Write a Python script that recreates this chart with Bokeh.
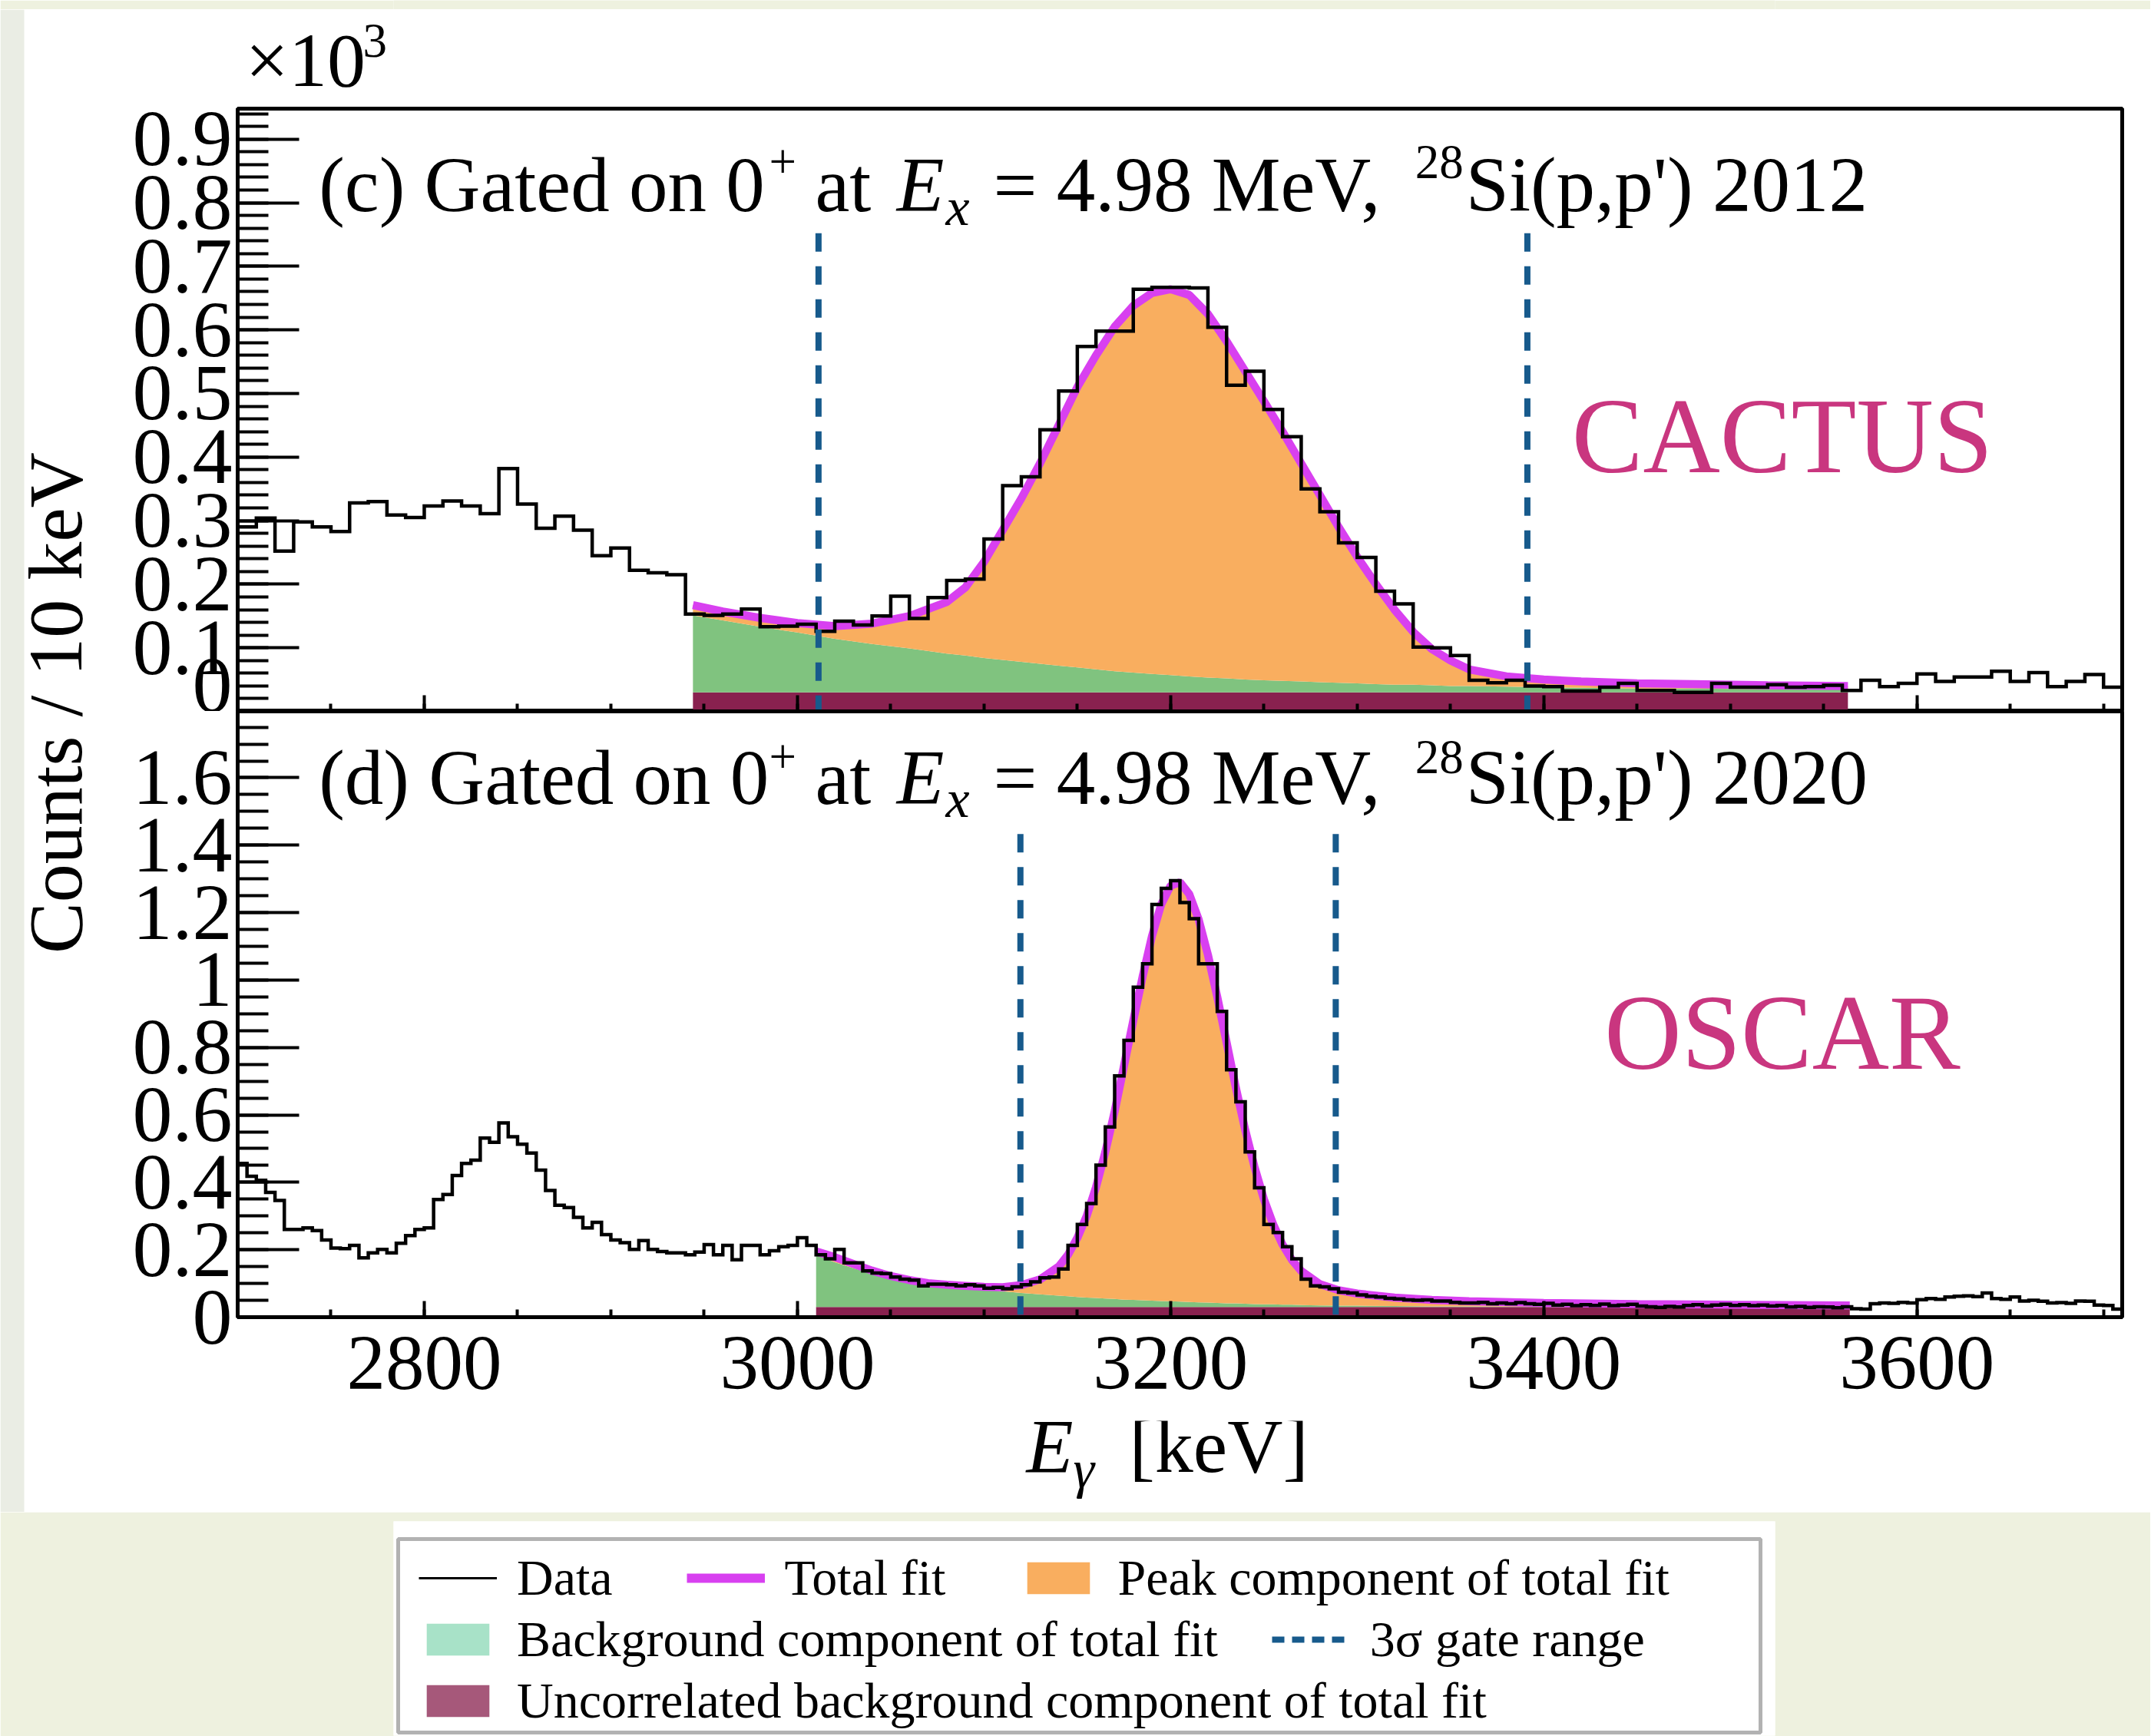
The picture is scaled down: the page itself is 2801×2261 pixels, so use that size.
import numpy as np
from bokeh.plotting import figure
from bokeh.models import (Range1d, SingleIntervalTicker, CustomJSTickFormatter, Label,
                          Legend, LegendItem, BoxAnnotation)
from bokeh.layouts import row, column
from bokeh.embed import file_html
from bokeh.resources import INLINE

FONT = "Liberation Serif"
CREAM = "#eef1df"
GRAYBAND = "#eaede4"
PINK = "#c9367f"
BLUE = "#175a8c"
ORANGE = "#f9ae5f"
GREEN = "#80c37f"
MAROON = "#89214f"
MAGENTA = "#d840f0"
MINT = "#a8e2c8"
UNC_LEG = "#a6587a"

# ---------------- data ----------------
x_lo, x_hi = 2700, 3710

# (c) CACTUS 2012 : 10 keV bins starting at 2700 keV
upper_bin_width = 10
upper_counts = [
    290, 304, 252, 298, 290, 283, 328, 330, 309, 305,
    323, 331, 323, 311, 382, 326, 288, 307, 285, 245,
    257, 222, 218, 215, 153, 151, 153, 161, 133, 134,
    137, 126, 142, 136, 150, 181, 146, 179, 206, 208,
    271, 355, 369, 443, 504, 574, 598, 598, 664, 667,
    667, 666, 604, 513, 535, 475, 432, 350, 314, 265,
    242, 189, 169, 101, 100, 88, 49, 45, 49, 40,
    39, 32, 32, 38, 44, 33, 33, 30, 30, 44,
    38, 38, 42, 38, 39, 41, 33, 49, 39, 44,
    59, 47, 54, 54, 63, 47, 61, 39, 47, 58,
    38]
upper_fit_E = [2944, 2960, 2980, 3000, 3020, 3040, 3060, 3080, 3090, 3100,
               3110, 3120, 3130, 3140, 3150, 3160, 3170, 3180, 3190, 3200,
               3210, 3220, 3230, 3240, 3250, 3260, 3270, 3280, 3290, 3300,
               3310, 3320, 3330, 3340, 3350, 3360, 3380, 3400, 3420, 3450,
               3480, 3520, 3563]
upper_fit_total = [167, 157, 147, 139, 134, 138, 150, 172, 195, 235,
                   285, 335, 390, 450, 510, 560, 605, 638, 658, 664,
                   655, 625, 582, 535, 488, 440, 390, 340, 290, 243,
                   200, 160, 125, 98, 80, 66, 55, 50, 47, 44,
                   43, 41, 40]
upper_fit_bg = [151, 143, 133, 124, 114, 106, 99, 91, 88, 84,
                81, 78, 75, 72, 69, 66, 63, 61, 59, 57,
                55, 53, 52, 50, 49, 48, 47, 46, 45, 44,
                43, 42, 42, 41, 40, 40, 39, 38, 37, 36,
                36, 35, 35]
upper_uncorr = 30
upper_fit_range = [2944, 3563]
upper_gates = [3011.3, 3391.2]
upper_gate_top = 752

# (d) OSCAR 2020 : 5 keV bins starting at 2700 keV
lower_bin_width = 5
lower_counts = [
    456, 418, 406, 370, 346, 260, 260, 265, 257, 229,
    205, 203, 213, 176, 191, 201, 191, 219, 242, 260,
    265, 349, 364, 420, 456, 466, 531, 519, 576, 535,
    513, 487, 436, 376, 332, 325, 296, 265, 281, 245,
    229, 221, 201, 227, 201, 195, 191, 191, 185, 193,
    215, 185, 213, 170, 213, 213, 185, 197, 209, 213,
    236, 213, 185, 173, 201, 161,
    161, 137, 131, 129, 119, 113, 110, 93, 98, 98,
    96, 93, 96, 93, 86, 88, 84, 90, 96, 105,
    117, 119, 143, 213, 275, 337, 451, 564, 716, 821,
    979, 1048, 1224, 1272, 1295, 1230, 1182, 1048, 1048, 907,
    734, 639, 490, 384, 275, 251, 209, 173, 113, 93,
    90, 84, 74, 72, 66, 62, 60, 56, 54, 51,
    50, 51, 48, 48, 44, 42,
    42, 44, 40, 42, 40, 43, 40, 38, 41, 36,
    38, 34, 37, 35, 39, 34, 36, 38, 33, 31,
    29, 32, 30, 35, 37, 33, 36, 38, 35, 37,
    34, 36, 33, 35, 30, 32, 29, 31, 30, 28,
    31, 25, 24, 40, 42, 41, 44, 42, 52, 55,
    53, 60, 62, 63, 61, 72, 55, 53, 60, 48,
    50, 47, 42, 43, 41, 48, 47, 36, 35, 24]
lower_fit_E = [3010, 3020, 3030, 3040, 3050, 3060, 3070, 3080, 3090, 3100,
               3110, 3120, 3130, 3140, 3145, 3150, 3155, 3160, 3165, 3170,
               3175, 3180, 3185, 3190, 3195, 3200, 3205, 3210, 3215, 3220,
               3225, 3230, 3235, 3240, 3245, 3250, 3255, 3260, 3265, 3270,
               3280, 3290, 3300, 3320, 3340, 3360, 3400, 3450, 3500, 3564]
lower_fit_total = [195, 178, 158, 138, 122, 110, 101, 96, 93, 90,
                   89, 95, 112, 150, 185, 235, 300, 385, 490, 610,
                   745, 880, 1010, 1130, 1225, 1280, 1290, 1255, 1180, 1075,
                   950, 815, 680, 555, 445, 350, 275, 215, 170, 137,
                   98, 80, 70, 58, 51, 47, 42, 39, 37, 35]
lower_fit_bg = [185, 163, 145, 130, 119, 108, 100, 93, 87, 82,
                77, 72, 68, 64, 62, 60, 58, 57, 55, 54,
                52, 51, 50, 49, 48, 47, 46, 45, 44, 43,
                42, 41, 41, 40, 39, 38, 38, 37, 37, 36,
                35, 34, 34, 33, 32, 32, 31, 31, 30, 30]
lower_uncorr = 30
lower_fit_range = [3010, 3564]
lower_gates = [3119.5, 3288.5]
lower_gate_top = 1433

x_ticks_interval = 200

LEFT_W = 140          # strip holding the vertical axis title
FRAME_L = 169         # border left of every plot frame in the right column
FRAME_W = 2454
FRAME_R = 37
X0 = LEFT_W + FRAME_L  # page x of the frames' left edge (309)
TOTAL_W = LEFT_W + FRAME_L + FRAME_W + FRAME_R
TOP_BAND = 12


def add_label(p, x, y, text, size, style="normal", color="black",
              align="left", angle=0.0):
    p.add_layout(Label(x=x, y=y, text=text, text_font=FONT,
                       text_font_size=f"{size}px", text_font_style=style,
                       text_color=color, text_align=align,
                       text_baseline="middle", angle=angle))


def strip(height):
    """Text strip aligned with the plot frames; data x = page x, data y = px from bottom."""
    p = figure(frame_width=FRAME_W, frame_height=height,
               x_range=Range1d(X0, X0 + FRAME_W), y_range=Range1d(0, height),
               x_axis_location=None, y_axis_location=None,
               min_border_left=FRAME_L, min_border_right=FRAME_R,
               min_border_top=0, min_border_bottom=0, output_backend="svg",
               toolbar_location=None, outline_line_color=None,
               background_fill_color="white", border_fill_color="white")
    p.grid.visible = False
    return p


def make_panel(counts, bin_w, fitE, fit_tot, fit_bg, unc, fit_range, gates,
               gate_top, y_max, y_interval, n_minor, frame_h, top_b, bottom_b,
               show_xlabels):
    p = figure(frame_width=FRAME_W, frame_height=frame_h,
               x_range=Range1d(x_lo, x_hi), y_range=Range1d(0, y_max),
               output_backend="svg", toolbar_location=None,
               min_border_left=FRAME_L, min_border_right=FRAME_R,
               min_border_top=top_b, min_border_bottom=bottom_b,
               background_fill_color="white", border_fill_color="white",
               outline_line_color="black", outline_line_width=5)
    p.grid.visible = False

    k = 1000.0
    fitE = np.array(fitE, dtype=float)
    tot = np.array(fit_tot, dtype=float) / k
    bg = np.array(fit_bg, dtype=float) / k
    un = np.full(len(fitE), unc / k)

    p.quad(left=[fit_range[0]], right=[fit_range[1]], bottom=[0], top=[unc / k],
           fill_color=MAROON, line_color=None)
    p.varea(x=fitE, y1=un, y2=bg, fill_color=GREEN)
    p.varea(x=fitE, y1=bg, y2=tot, fill_color=ORANGE)
    p.line(fitE, tot, line_color=MAGENTA, line_width=10.5)

    c = np.array(counts, dtype=float) / k
    edges = x_lo + bin_w * np.arange(len(c) + 1)
    p.step(edges, np.append(c, c[-1]), mode="after", line_color="black",
           line_width=4.5, line_join="miter")

    p.segment(x0=gates, y0=[gate_top / k] * len(gates), x1=gates, y1=[0] * len(gates),
              line_color=BLUE, line_width=8, line_dash="24 19")

    xa = p.xaxis[0]
    xa.ticker = SingleIntervalTicker(interval=x_ticks_interval, num_minor_ticks=4)
    xa.major_tick_in = 21
    xa.major_tick_out = 0
    xa.minor_tick_in = 10
    xa.minor_tick_out = 0
    xa.major_tick_line_width = 4
    xa.minor_tick_line_width = 4
    xa.axis_line_width = 5
    xa.major_label_text_font = FONT
    xa.major_label_text_color = "black"
    if show_xlabels:
        xa.major_label_text_font_size = "101px"
        xa.major_label_standoff = 26
    else:
        xa.formatter = CustomJSTickFormatter(code="return '';")
        xa.major_label_text_font_size = "0px"
        xa.major_label_standoff = 0

    ya = p.yaxis[0]
    ya.ticker = SingleIntervalTicker(interval=y_interval, num_minor_ticks=n_minor)
    ya.formatter = CustomJSTickFormatter(code="return String(Math.round(tick*100)/100);")
    ya.major_tick_in = 80
    ya.major_tick_out = 0
    ya.minor_tick_in = 40
    ya.minor_tick_out = 0
    ya.major_tick_line_width = 4
    ya.minor_tick_line_width = 4
    ya.axis_line_width = 5
    ya.major_label_text_font = FONT
    ya.major_label_text_font_size = "104px"
    ya.major_label_text_color = "black"
    ya.major_label_standoff = 7
    return p


UY = 0.948
LY = 1.797
up = make_panel(upper_counts, upper_bin_width, upper_fit_E, upper_fit_total,
                upper_fit_bg, upper_uncorr, upper_fit_range, upper_gates,
                upper_gate_top, UY, 0.1, 5, 785, 5, 0, False)
lo = make_panel(lower_counts, lower_bin_width, lower_fit_E, lower_fit_total,
                lower_fit_bg, lower_uncorr, lower_fit_range, lower_gates,
                lower_gate_top, LY, 0.2, 4, 789, 0, 135, True)


# panel titles (y = vertical centre of the text)
def title(p, tag, year, yc, ysup, ysub):
    add_label(p, 2743.5, yc, f"({tag}) Gated on 0", 101)
    add_label(p, 2984.8, ysup, "+", 63)
    add_label(p, 3009.5, yc, "at", 101)
    add_label(p, 3053.2, yc, "E", 101, style="italic")
    add_label(p, 3079.5, ysub, "x", 70, style="italic")
    add_label(p, 3105.0, yc, "= 4.98 MeV,", 101)
    add_label(p, 3331.0, ysup, "28", 63)
    add_label(p, 3358.2, yc, f"Si(p,p') {year}", 101)


title(up, "c", "2012", 0.8284, 0.8638, 0.7929)
title(lo, "d", "2020", 1.5989, 1.661, 1.5364)
add_label(up, 3415.0, 0.4334, "CACTUS", 139, color=PINK)
add_label(lo, 3432.5, 0.8447, "OSCAR", 139, color=PINK)

# thin cream band across the very top of the page
band = figure(frame_width=1799, frame_height=TOP_BAND, x_range=Range1d(0, 1),
              y_range=Range1d(0, 1), x_axis_location=None, y_axis_location=None,
              min_border_left=512, min_border_right=TOTAL_W - 512 - 1799,
              min_border_top=0, min_border_bottom=0, output_backend="svg",
              toolbar_location=None, outline_line_color=None,
              background_fill_color=CREAM, border_fill_color=CREAM)
band.grid.visible = False

# header strip with the x10^3 multiplier
HEAD_H = 124
head = strip(HEAD_H)
add_label(head, 319, 58, "\u00d710", 100)
add_label(head, 472, 84, "3", 63)

# footer strip with the x-axis title
FOOT_H = 119
foot = strip(FOOT_H)
add_label(foot, 1336, 86, "E", 100, style="italic")
add_label(foot, 1397, 56, "\u03b3", 70, style="italic")
add_label(foot, 1470, 86, "[keV]", 100)

# left strip with the y-axis title (pixel coordinates, y measured from page y=1969)
H = 1969 - TOP_BAND
yl = figure(frame_width=LEFT_W, frame_height=H, x_range=Range1d(0, LEFT_W),
            y_range=Range1d(0, H), x_axis_location=None, y_axis_location=None,
            min_border_left=0, min_border_right=0, min_border_top=0,
            min_border_bottom=0, output_backend="svg", toolbar_location=None,
            outline_line_color=None, background_fill_color="white",
            border_fill_color="white")
yl.grid.visible = False
yl.add_layout(BoxAnnotation(left=0, right=31, fill_color=GRAYBAND, fill_alpha=1.0,
                            line_color=None))
add_label(yl, 72, 1054, "Counts / 10 keV", 100, align="center", angle=np.pi / 2)

# legend area (pixel coordinates inside the white patch)
LW, LH = 1799, 279
lf = figure(frame_width=LW, frame_height=LH, x_range=Range1d(0, LW),
            y_range=Range1d(0, LH), x_axis_location=None, y_axis_location=None,
            min_border_left=512, min_border_right=TOTAL_W - 512 - LW,
            min_border_top=12, min_border_bottom=1, output_backend="svg",
            toolbar_location=None, background_fill_color="white",
            border_fill_color=CREAM, outline_line_color=None)
lf.grid.visible = False
lf.add_layout(BoxAnnotation(left=6, right=1780, bottom=4, top=256, fill_alpha=0.0,
                            line_color="black", line_width=5))
ox, oy = [-100, -90], [10, 10]
r_data = lf.line(x=ox, y=oy, line_color="black", line_width=3)
r_fit = lf.line(x=ox, y=oy, line_color=MAGENTA, line_width=12)
r_peak = lf.quad(left=[-100], right=[-90], top=[20], bottom=[10], fill_color=ORANGE, line_color=None)
r_bg = lf.quad(left=[-100], right=[-90], top=[20], bottom=[10], fill_color=MINT, line_color=None)
r_gate = lf.line(x=ox, y=oy, line_color=BLUE, line_width=8, line_dash="16 10")
r_unc = lf.quad(left=[-100], right=[-90], top=[20], bottom=[10], fill_color=UNC_LEG, line_color=None)


def mk_legend(items, loc, spacing):
    lg = Legend(items=[LegendItem(label=t, renderers=[r]) for t, r in items],
                location=loc, orientation="horizontal", spacing=spacing,
                padding=0, margin=0, glyph_width=102, glyph_height=52,
                label_standoff=26, label_text_font=FONT, label_text_font_size="66px",
                label_text_color="black", label_height=52,
                border_line_color=None, background_fill_alpha=0.0)
    lf.add_layout(lg)


mk_legend([("Data", r_data), ("Total fit", r_fit),
           ("Peak component of total fit", r_peak)], (33, 167), 96)
mk_legend([("Background component of total fit", r_bg),
           ("3\u03c3 gate range", r_gate)], (33, 87), 70)
mk_legend([("Uncorrelated background component of total fit", r_unc)], (33, 7), 70)

layout = column(band, row(yl, column(head, up, lo, foot)), lf)

open("out.html", "w").write(file_html(layout, INLINE))
